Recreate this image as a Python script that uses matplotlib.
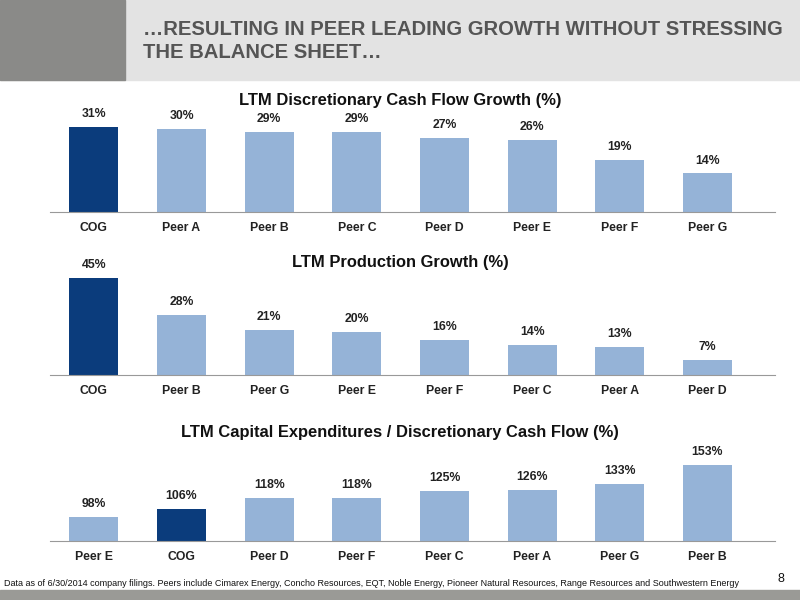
import matplotlib
matplotlib.use("Agg")
import matplotlib.pyplot as plt
from matplotlib.patches import Rectangle

plt.rcParams['font.family'] = ['Liberation Sans', 'DejaVu Sans']
sz = 0.88

cats1 = ["COG", "Peer A", "Peer B", "Peer C", "Peer D", "Peer E", "Peer F", "Peer G"]
vals1 = [31, 30, 29, 29, 27, 26, 19, 14]
cats2 = ["COG", "Peer B", "Peer G", "Peer E", "Peer F", "Peer C", "Peer A", "Peer D"]
vals2 = [45, 28, 21, 20, 16, 14, 13, 7]
cats3 = ["Peer E", "COG", "Peer D", "Peer F", "Peer C", "Peer A", "Peer G", "Peer B"]
vals3 = [98, 106, 118, 118, 125, 126, 133, 153]

DARK = "#0b3c7c"
LIGHT = "#95b3d7"

W, H = 800, 600
fig = plt.figure(figsize=(8, 6), dpi=100)

fig.patches.append(Rectangle((0, 1 - 80 / H), 1, 80 / H, transform=fig.transFigure, color="#e3e3e3", zorder=0))
fig.patches.append(Rectangle((0, 1 - 80 / H), 125 / W, 80 / H, transform=fig.transFigure, color="#8a8a88", zorder=1))
fig.patches.append(Rectangle((0, 0), 1, 10 / H, transform=fig.transFigure, color="#9a9a96", zorder=1))
fig.text(143 / W, 1 - 41 / H, "…RESULTING IN PEER LEADING GROWTH WITHOUT STRESSING\nTHE BALANCE SHEET…",
         fontsize=14.6, fontweight="bold", color="#555555", va="center", ha="left", linespacing=1.3)

def panel(top, base, ylim, cats, vals, title, title_y, lblfmt):
    ax = fig.add_axes([50 / W, 1 - base / H, 725 / W, (base - top) / H])
    colors = [DARK if c == "COG" else LIGHT for c in cats]
    ax.bar(range(len(cats)), [v - ylim[0] for v in vals], bottom=ylim[0], width=0.56, color=colors)
    ax.set_xlim(-0.5, 7.77)
    ax.set_ylim(*ylim)
    for s in ["top", "right", "left"]:
        ax.spines[s].set_visible(False)
    ax.spines["bottom"].set_color("#999999")
    ax.set_yticks([])
    ax.set_xticks(range(len(cats)))
    ax.set_xticklabels(cats, fontsize=10 * sz, fontweight="bold", color="#222222")
    ax.tick_params(axis="x", length=0, pad=7)
    for i, v in enumerate(vals):
        ax.annotate(lblfmt.format(v), (i, v), xytext=(0, 5), textcoords="offset points",
                    ha="center", va="bottom", fontsize=10 * sz, fontweight="bold", color="#222222")
    fig.text(400 / W, 1 - title_y / H, title, ha="center", va="center", fontsize=13.5 * sz, fontweight="bold", color="#111111")

panel(117, 212, (0, 34.5), cats1, vals1, "LTM Discretionary Cash Flow Growth (%)", 100, "{}%")
panel(270, 375, (0, 48.6), cats2, vals2, "LTM Production Growth (%)", 263, "{}%")
panel(445, 541, (72.6, 174), cats3, vals3, "LTM Capital Expenditures / Discretionary Cash Flow (%)", 432, "{}%")

fig.text(4 / W, 1 - 583 / H,
         "Data as of 6/30/2014 company filings. Peers include Cimarex Energy, Concho Resources, EQT, Noble Energy, Pioneer Natural Resources, Range Resources and Southwestern Energy",
         fontsize=6.5, color="#111111", va="center", ha="left")
fig.text(777 / W, 1 - 579 / H, "8", fontsize=9, color="#111111", va="center")

fig.savefig("out.png", dpi=100)
